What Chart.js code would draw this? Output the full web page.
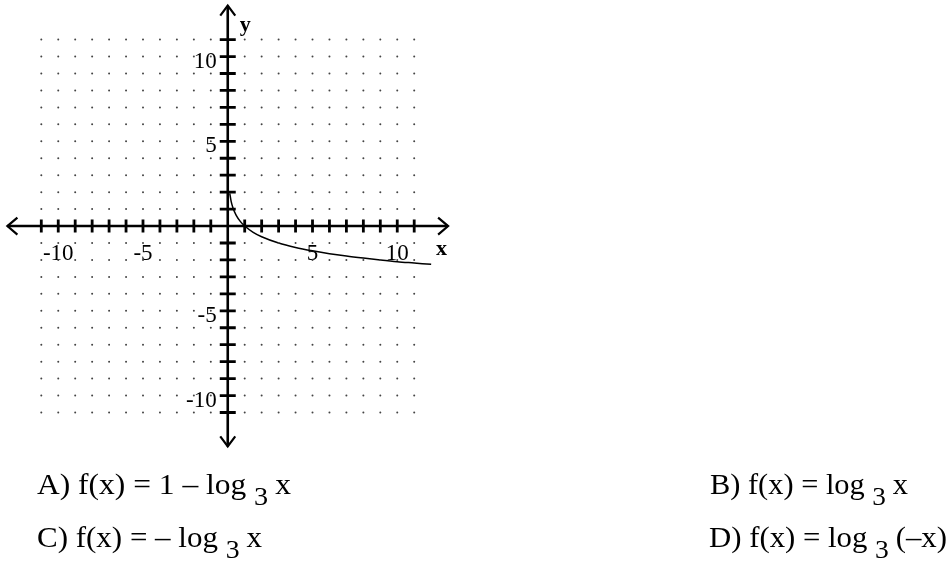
<!DOCTYPE html>
<html>
<head>
<meta charset="utf-8">
<script src="https://cdn.jsdelivr.net/npm/chart.js@4"></script>
<style>
html,body{margin:0;padding:0;background:#fff;}
canvas{display:block;}
</style>
</head>
<body>
<canvas id="c" width="950" height="565"></canvas>
<script>
// ---- data ----
const curveX = [0.12, 0.2, 0.3, 0.5, 0.75, 1, 1.5, 2, 3, 4, 5, 6, 7, 8, 9, 10, 11, 12];
const curveY = [1.93, 1.46, 1.10, 0.63, 0.26, 0, -0.37, -0.63, -1, -1.26, -1.46, -1.63, -1.77, -1.89, -2.0, -2.10, -2.18, -2.26];
const gridValues = [-11,-10,-9,-8,-7,-6,-5,-4,-3,-2,-1,1,2,3,4,5,6,7,8,9,10,11];
const xTickLabels = [{v:-10,t:"-10"},{v:-5,t:"-5"},{v:5,t:"5"},{v:10,t:"10"}];
const yTickLabels = [{v:10,t:"10"},{v:5,t:"5"},{v:-5,t:"-5"},{v:-10,t:"-10"}];
const axisExtent = 13;
const answers = [
  {label:"A)", parts:[["f(x) = 1 – log",0],["3",1],["x",0]], left:37, right:291, row:0},
  {label:"B)", parts:[["f(x) = log",0],["3",1],["x",0]], left:710, right:908, row:0},
  {label:"C)", parts:[["f(x) = – log",0],["3",1],["x",0]], left:37, right:262, row:1},
  {label:"D)", parts:[["f(x) = log",0],["3",1],["(–x)",0]], left:709, right:947, row:1}
];

const dots = [];
for (const gx of gridValues) for (const gy of gridValues) dots.push({x:gx, y:gy});
const curve = curveX.map((x,i)=>({x:x, y:curveY[i]}));

const axesPlugin = {
  id:'axes',
  beforeDatasetsDraw(chart){
    const ctx = chart.ctx, xs = chart.scales.x, ys = chart.scales.y;
    const x0 = xs.getPixelForValue(0), y0 = ys.getPixelForValue(0);
    const L = xs.getPixelForValue(-axisExtent), R = xs.getPixelForValue(axisExtent);
    const T = ys.getPixelForValue(axisExtent), B = ys.getPixelForValue(-axisExtent);
    ctx.save();
    ctx.strokeStyle = '#000';
    ctx.lineCap = 'butt';
    ctx.lineWidth = 2.6;
    ctx.beginPath();
    ctx.moveTo(L, y0); ctx.lineTo(R, y0);
    ctx.moveTo(x0, T); ctx.lineTo(x0, B);
    ctx.stroke();
    // ticks
    ctx.lineWidth = 2.8;
    ctx.beginPath();
    for (const v of gridValues) {
      const px = xs.getPixelForValue(v);
      ctx.moveTo(px, y0-6.5); ctx.lineTo(px, y0+6.5);
      const py = ys.getPixelForValue(v);
      ctx.moveTo(x0-8, py); ctx.lineTo(x0+8, py);
    }
    ctx.stroke();
    // arrowheads
    ctx.lineWidth = 2.2;
    ctx.lineJoin = 'miter';
    ctx.beginPath();
    ctx.moveTo(L+10, y0-8.5); ctx.lineTo(L, y0); ctx.lineTo(L+10, y0+8.5);
    ctx.moveTo(R-10, y0-8.5); ctx.lineTo(R, y0); ctx.lineTo(R-10, y0+8.5);
    ctx.moveTo(x0-7.5, T+10); ctx.lineTo(x0, T); ctx.lineTo(x0+7.5, T+10);
    ctx.moveTo(x0-7.5, B-10); ctx.lineTo(x0, B); ctx.lineTo(x0+7.5, B-10);
    ctx.stroke();
    // tick labels
    ctx.fillStyle = '#000';
    ctx.font = '23px "Liberation Serif", "Times New Roman", serif';
    ctx.textBaseline = 'alphabetic';
    ctx.textAlign = 'center';
    for (const t of xTickLabels) ctx.fillText(t.t, xs.getPixelForValue(t.v), y0+33.5);
    ctx.textAlign = 'right';
    for (const t of yTickLabels) ctx.fillText(t.t, x0-11, ys.getPixelForValue(t.v)+11);
    ctx.textAlign = 'left';
    ctx.font = 'bold 22px "Liberation Serif", "Times New Roman", serif';
    ctx.fillText('x', R-12, y0+29);
    ctx.fillText('y', x0+12, T+25);
    ctx.restore();
  },
  afterDraw(chart){
    const ctx = chart.ctx;
    const baselines = [494, 547];
    const mainFont = '29px "Liberation Serif", "Times New Roman", serif';
    const subFont = '26px "Liberation Serif", "Times New Roman", serif';
    ctx.save();
    ctx.fillStyle = '#000';
    ctx.textBaseline = 'alphabetic';
    ctx.textAlign = 'left';
    for (const a of answers) {
      const segs = [[a.label + ' ',0]].concat(a.parts.map((p,i)=>[p[0] + (i < a.parts.length-1 ? ' ' : ''), p[1]]));
      let w = 0;
      for (const s of segs) { ctx.font = s[1] ? subFont : mainFont; w += ctx.measureText(s[0]).width; }
      const k = (a.right - a.left) / w;
      ctx.save();
      ctx.translate(a.left, baselines[a.row]);
      ctx.scale(k, 1);
      let x = 0;
      for (const s of segs) {
        ctx.font = s[1] ? subFont : mainFont;
        ctx.fillText(s[0], x, s[1] ? 11 : 0);
        x += ctx.measureText(s[0]).width;
      }
      ctx.restore();
    }
    ctx.restore();
  }
};

new Chart(document.getElementById('c'), {
  type:'scatter',
  data:{datasets:[
    {data:dots, pointRadius:1, pointBackgroundColor:'#444', pointBorderWidth:0, showLine:false},
    {data:curve, showLine:true, pointRadius:0, borderColor:'#000', borderWidth:1.5, cubicInterpolationMode:'monotone', fill:false}
  ]},
  options:{
    responsive:false, animation:false, devicePixelRatio:1,
    layout:{padding:{left:0.9, right:498.5, top:1, bottom:116.9}},
    plugins:{legend:{display:false}, tooltip:{enabled:false}},
    scales:{
      x:{type:'linear', min:-13.2, max:13.2, display:false},
      y:{type:'linear', min:-13.1, max:13.1, display:false}
    }
  },
  plugins:[axesPlugin]
});
</script>
</body>
</html>
